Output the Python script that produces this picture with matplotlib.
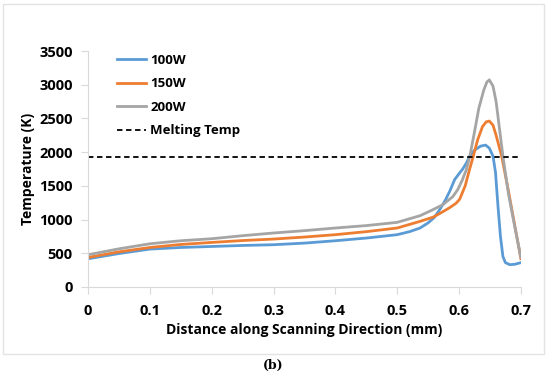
import matplotlib.pyplot as plt
from matplotlib.patches import Rectangle

plt.rcParams['font.family'] = ['Open Sans', 'DejaVu Sans']

# distance along scanning direction (mm) and temperature (K) per laser power
x_100 = [0, 0.05, 0.1, 0.15, 0.2, 0.25, 0.3, 0.35, 0.4, 0.45, 0.5, 0.52, 0.537, 0.55,
         0.56, 0.569, 0.578, 0.585, 0.593, 0.6, 0.606, 0.612, 0.617, 0.625, 0.635, 0.643,
         0.649, 0.655, 0.659, 0.663, 0.667, 0.671, 0.675, 0.682, 0.69, 0.698, 0.7]
t_100 = [417, 495, 561, 585, 600, 615, 626, 650, 685, 725, 775, 820, 874, 950,
         1030, 1150, 1290, 1420, 1594, 1680, 1750, 1840, 1936, 2030, 2090, 2105,
         2060, 1940, 1700, 1200, 750, 450, 360, 330, 335, 355, 360]

x_150 = [0, 0.05, 0.1, 0.15, 0.2, 0.25, 0.3, 0.35, 0.4, 0.45, 0.5, 0.537, 0.558, 0.569,
         0.585, 0.595, 0.601, 0.61, 0.617, 0.623, 0.63, 0.638, 0.644, 0.649, 0.655, 0.66,
         0.669, 0.68, 0.69, 0.7]
t_150 = [437, 520, 585, 630, 660, 688, 710, 740, 775, 820, 874, 973, 1035, 1090,
         1177, 1240, 1300, 1500, 1743, 1936, 2180, 2380, 2450, 2462, 2400, 2250,
         1940, 1420, 920, 420]

x_200 = [0, 0.05, 0.1, 0.15, 0.2, 0.25, 0.3, 0.35, 0.4, 0.45, 0.5, 0.537, 0.558, 0.574,
         0.59, 0.598, 0.605, 0.612, 0.6175, 0.625, 0.632, 0.64, 0.645, 0.649, 0.655, 0.66,
         0.671, 0.68, 0.69, 0.7]
t_200 = [477, 565, 640, 685, 715, 760, 800, 835, 874, 910, 958, 1057, 1147, 1221,
         1340, 1445, 1580, 1743, 1940, 2300, 2650, 2920, 3040, 3073, 2980, 2750,
         1940, 1380, 900, 440]

melt_temp = 1930

fig = plt.figure(figsize=(5.5, 3.76), dpi=100)
ax = fig.add_axes([0.16, 0.237, 0.787, 0.627])

ax.plot(x_100, t_100, color='#5B9BD5', lw=2, label='100W')
ax.plot(x_150, t_150, color='#ED7D31', lw=2, label='150W')
ax.plot(x_200, t_200, color='#A5A5A5', lw=2, label='200W')
ax.axhline(melt_temp, color='black', lw=1.3, ls=(0, (3, 2)), label='Melting Temp')

ax.set_xlim(0, 0.7)
ax.set_ylim(0, 3500)
ax.set_xticks([0, 0.1, 0.2, 0.3, 0.4, 0.5, 0.6, 0.7])
ax.set_xticklabels(['0', '0.1', '0.2', '0.3', '0.4', '0.5', '0.6', '0.7'])
ax.set_yticks(range(0, 3501, 500))

for s in ['top', 'right']:
    ax.spines[s].set_visible(False)
for s in ['left', 'bottom']:
    ax.spines[s].set_color('#D9D9D9')
ax.tick_params(axis='x', direction='out', length=5, color='#D9D9D9', pad=7,
               labelsize=10.5)
ax.tick_params(axis='y', direction='out', length=5, color='#D9D9D9', pad=6,
               labelsize=10.5)
for lbl in ax.get_xticklabels() + ax.get_yticklabels():
    lbl.set_fontweight('bold')

ax.set_xlabel('Distance along Scanning Direction (mm)', fontsize=10,
              fontweight='bold', labelpad=4)
ax.set_ylabel('Temperature (K)', fontsize=10, fontweight='bold', labelpad=3)

leg = ax.legend(loc='upper left', bbox_to_anchor=(0.04, 1.04), frameon=False,
                handlelength=2.2, handletextpad=0.3, labelspacing=0.8,
                prop={'weight': 'bold', 'size': 9.5})

fig.patches.append(Rectangle((3 / 550, 1 - 354 / 376), 541 / 550, 350 / 376,
                             transform=fig.transFigure, fill=False,
                             edgecolor='#E3E3E3', lw=1))
fig.text(0.497, 1 - 365 / 376, '(b)', fontsize=9, family='DejaVu Serif',
         fontweight='bold', ha='center', va='center')

fig.savefig('out.png', dpi=100)
